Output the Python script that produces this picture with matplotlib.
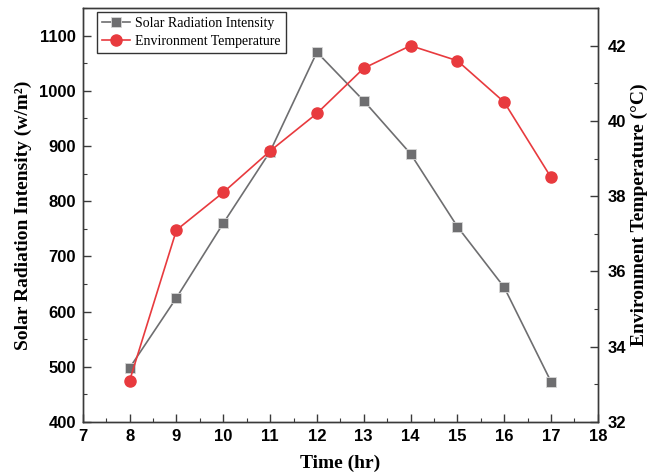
import matplotlib
matplotlib.use("Agg")
from matplotlib import pyplot as plt
from matplotlib.ticker import MultipleLocator

hours = [8, 9, 10, 11, 12, 13, 14, 15, 16, 17]
solar = [498, 625, 760, 890, 1070, 982, 886, 754, 644, 473]
temperature = [33.1, 37.1, 38.1, 39.2, 40.2, 41.4, 42.0, 41.6, 40.5, 38.5]

gray = '#6e6e70'
red = '#e83a3e'
spine_color = '#3a3a3a'
tick_font = {'family': 'Liberation Sans', 'weight': 'bold', 'size': 12}
label_font = {'family': 'Liberation Serif', 'weight': 'bold', 'size': 14}

fig = plt.figure(figsize=(6.47, 4.72), dpi=100)
ax = fig.add_axes([0.128, 0.106, 0.796, 0.877])
ax2 = ax.twinx()

l1, = ax.plot(hours, solar, color=gray, lw=1.2, marker='s', markersize=7.5,
              markerfacecolor=gray, markeredgecolor='#d8d8d8', markeredgewidth=0.6,
              label='Solar Radiation Intensity')
l2, = ax2.plot(hours, temperature, color=red, lw=1.2, marker='o', markersize=8,
               markerfacecolor=red, markeredgecolor=red,
               label='Environment Temperature')

ax.set_xlim(7, 18)
ax.set_ylim(400, 1150)
ax2.set_ylim(32, 43)

ax.xaxis.set_major_locator(MultipleLocator(1))
ax.xaxis.set_minor_locator(MultipleLocator(0.5))
ax.yaxis.set_major_locator(MultipleLocator(100))
ax.yaxis.set_minor_locator(MultipleLocator(50))
ax2.yaxis.set_major_locator(MultipleLocator(2))
ax2.yaxis.set_minor_locator(MultipleLocator(1))

for a in (ax, ax2):
    for s in a.spines.values():
        s.set_color(spine_color)
        s.set_linewidth(1.0)
    a.tick_params(which='both', direction='in', color=spine_color)
    a.tick_params(which='major', length=6, width=1.0, pad=5)
    a.tick_params(which='minor', length=3, width=0.8)

ax.tick_params(axis='y', which='both', right=False)
ax.tick_params(axis='x', which='both', top=False)
ax2.tick_params(axis='y', which='major', pad=7)

for lab in ax.get_xticklabels() + ax.get_yticklabels() + ax2.get_yticklabels():
    lab.set_fontproperties(tick_font)

ax.set_xlabel('Time (hr)', fontdict=label_font, labelpad=8)
ax.set_ylabel('Solar Radiation Intensity (w/m²)', fontdict=label_font, labelpad=5)
ax2.set_ylabel('Environment Temperature (°C)', fontdict=label_font, labelpad=3)

leg = ax.legend(handles=[l1, l2], loc='upper left', bbox_to_anchor=(0.02, 1.0),
                prop={'family': 'Liberation Serif', 'size': 10},
                frameon=True, fancybox=False, borderpad=0.35, labelspacing=0.35,
                handlelength=2.0, handletextpad=0.4, borderaxespad=0.3)
leg.get_frame().set_edgecolor('black')
leg.get_frame().set_linewidth(1.0)

fig.savefig('out.png', dpi=100)
